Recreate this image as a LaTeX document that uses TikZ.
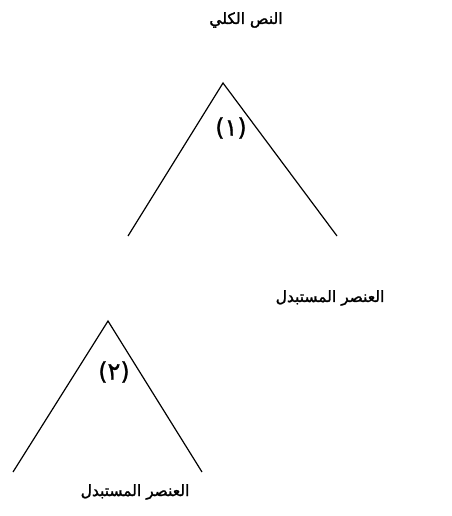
\documentclass[tikz,border=0pt]{standalone}
\usepackage{fontspec}
\newfontfamily\arabicfont[Script=Arabic,FakeBold=1.5]{DejaVu Sans}
\newfontfamily\numfont[Script=Arabic,FakeBold=1]{DejaVu Sans}
\TeXXeTstate=1
\begin{document}
\begin{tikzpicture}[x=1pt,y=-1pt,
  arlabel/.style={font=\arabicfont\fontsize{15.5}{18}\selectfont, inner sep=0pt},
  numlabel/.style={font=\numfont\fontsize{24}{26}\selectfont, inner sep=0pt},
  tree/.style={line width=1.2pt, line join=miter}]
\useasboundingbox (0,0) rectangle (451,516);
% titles
\node[arlabel] (whole) at (246,20) {\beginR النص الكلي\endR};
\node[arlabel] (sub1) at (330,298) {\beginR العنصر المستبدل\endR};
\node[arlabel] (sub2) at (135,492) {\beginR العنصر المستبدل\endR};
% triangle 1
\coordinate (a1) at (223,83);
\coordinate (l1) at (128,236);
\coordinate (r1) at (337,236);
\draw[tree] (l1) -- (a1) -- (r1);
\node[numlabel] (n1) at (231,128) {(١)};
% triangle 2
\coordinate (a2) at (108,321);
\coordinate (l2) at (13,472);
\coordinate (r2) at (202,472);
\draw[tree] (l2) -- (a2) -- (r2);
\node[numlabel] (n2) at (114,372) {(٢)};
\end{tikzpicture}
\end{document}
